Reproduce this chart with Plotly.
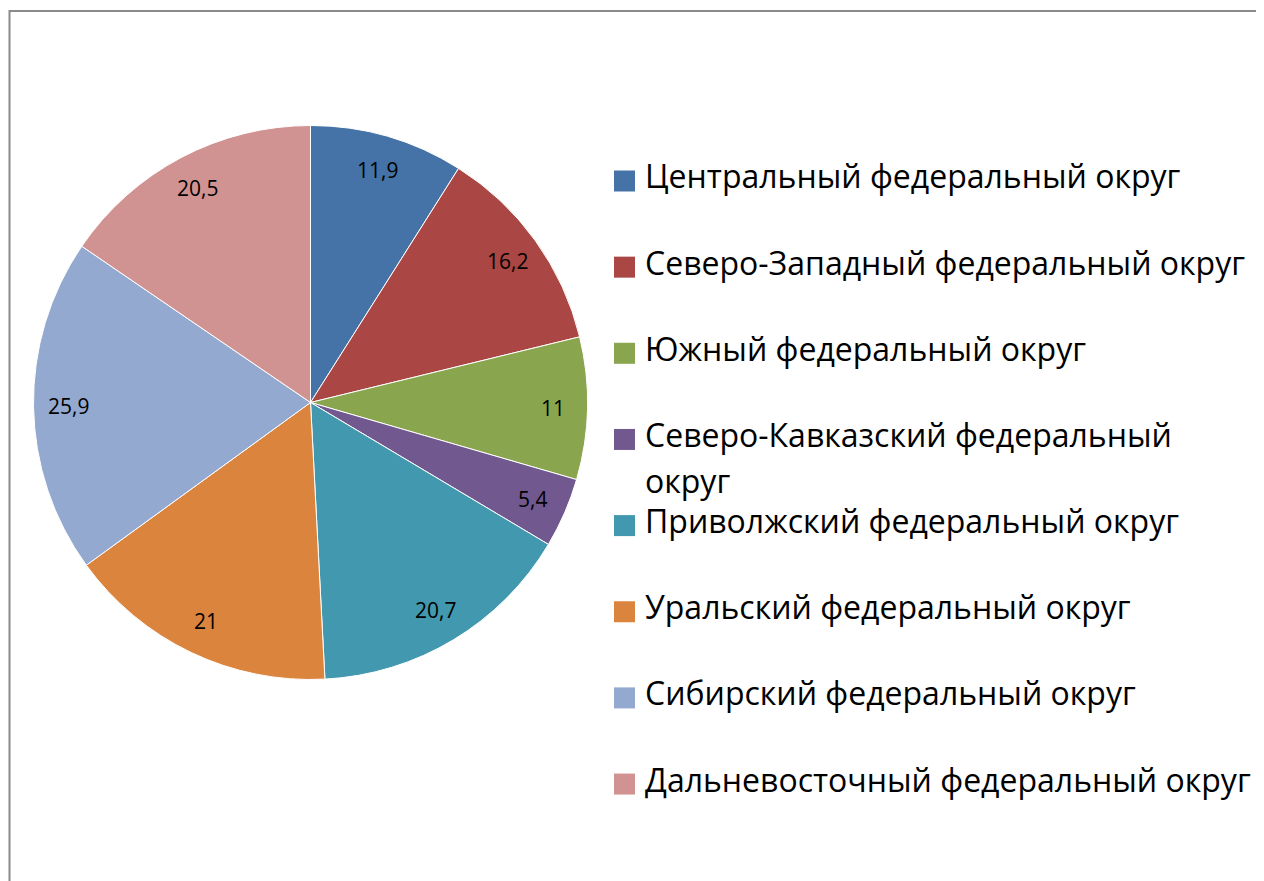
import math
import plotly.graph_objects as go

# Page body has an 8px margin; figure is sized so that it ends at the window edge.
OFF = 8
W, H = 1264 - OFF, 881 - OFF

categories = [
    "Центральный федеральный округ",
    "Северо-Западный федеральный округ",
    "Южный федеральный округ",
    "Северо-Кавказский федеральный<br>округ",
    "Приволжский федеральный округ",
    "Уральский федеральный округ",
    "Сибирский федеральный округ",
    "Дальневосточный федеральный округ",
]
values = [11.9, 16.2, 11, 5.4, 20.7, 21, 25.9, 20.5]
colors = ["#4572A7", "#AA4643", "#89A54E", "#71588F",
          "#4198AF", "#DB843D", "#93A9CF", "#D19392"]

FONT = "Open Sans"

# pie geometry (figure pixels)
CX, CY, R = 302.5, 394.5, 277.0


def px(x):
    return x / W


def py(y):
    return (H - y) / H


fig = go.Figure()
fig.add_trace(go.Pie(
    labels=[c.replace("<br>", " ") for c in categories],
    values=values,
    sort=False,
    direction="clockwise",
    rotation=0,
    marker=dict(colors=colors, line=dict(color="white", width=1)),
    textinfo="none",
    showlegend=False,
    hoverinfo="label+value",
    domain=dict(x=[px(CX - R), px(CX + R)], y=[py(CY + R), py(CY - R)]),
))

annotations = []
# data labels placed at each slice's mid-angle, near the rim (Excel style)
total = sum(values)
cum = 0.0
for v in values:
    mid = (cum + v / 2) / total * 2 * math.pi
    cum += v
    r = 0.875 * R
    x = CX + r * math.sin(mid)
    y = CY - r * math.cos(mid)
    annotations.append(dict(xref="paper", yref="paper", x=px(x), y=py(y),
                            xanchor="center", yanchor="middle",
                            text=f"{v:g}".replace(".", ","), showarrow=False,
                            font=dict(family=FONT, size=21, color="black")))

shapes = [dict(type="rect", xref="paper", yref="paper",
               x0=px(1.5), x1=1.05, y0=-0.05, y1=py(3),
               line=dict(color="#8a8a8a", width=2), fillcolor="rgba(0,0,0,0)",
               layer="above")]

y_first, step, line2 = 173, 86.15, 46
for i, (cat, col) in enumerate(zip(categories, colors)):
    yc = y_first + i * step
    shapes.append(dict(type="rect", xref="paper", yref="paper",
                       x0=px(606), x1=px(627),
                       y0=py(yc + 10.5), y1=py(yc - 10.5),
                       line=dict(width=0), fillcolor=col))
    for j, part in enumerate(cat.split("<br>")):
        annotations.append(dict(xref="paper", yref="paper", x=px(635),
                                y=py(yc - 5 + j * line2),
                                xanchor="left", yanchor="middle",
                                text=part, showarrow=False, align="left",
                                font=dict(family=FONT, size=32, color="black")))

fig.update_layout(
    width=W, height=H, autosize=False,
    margin=dict(l=0, r=0, t=0, b=0),
    paper_bgcolor="white", plot_bgcolor="white",
    separators=", ",
    shapes=shapes, annotations=annotations,
)
fig.write_html("out.html")
